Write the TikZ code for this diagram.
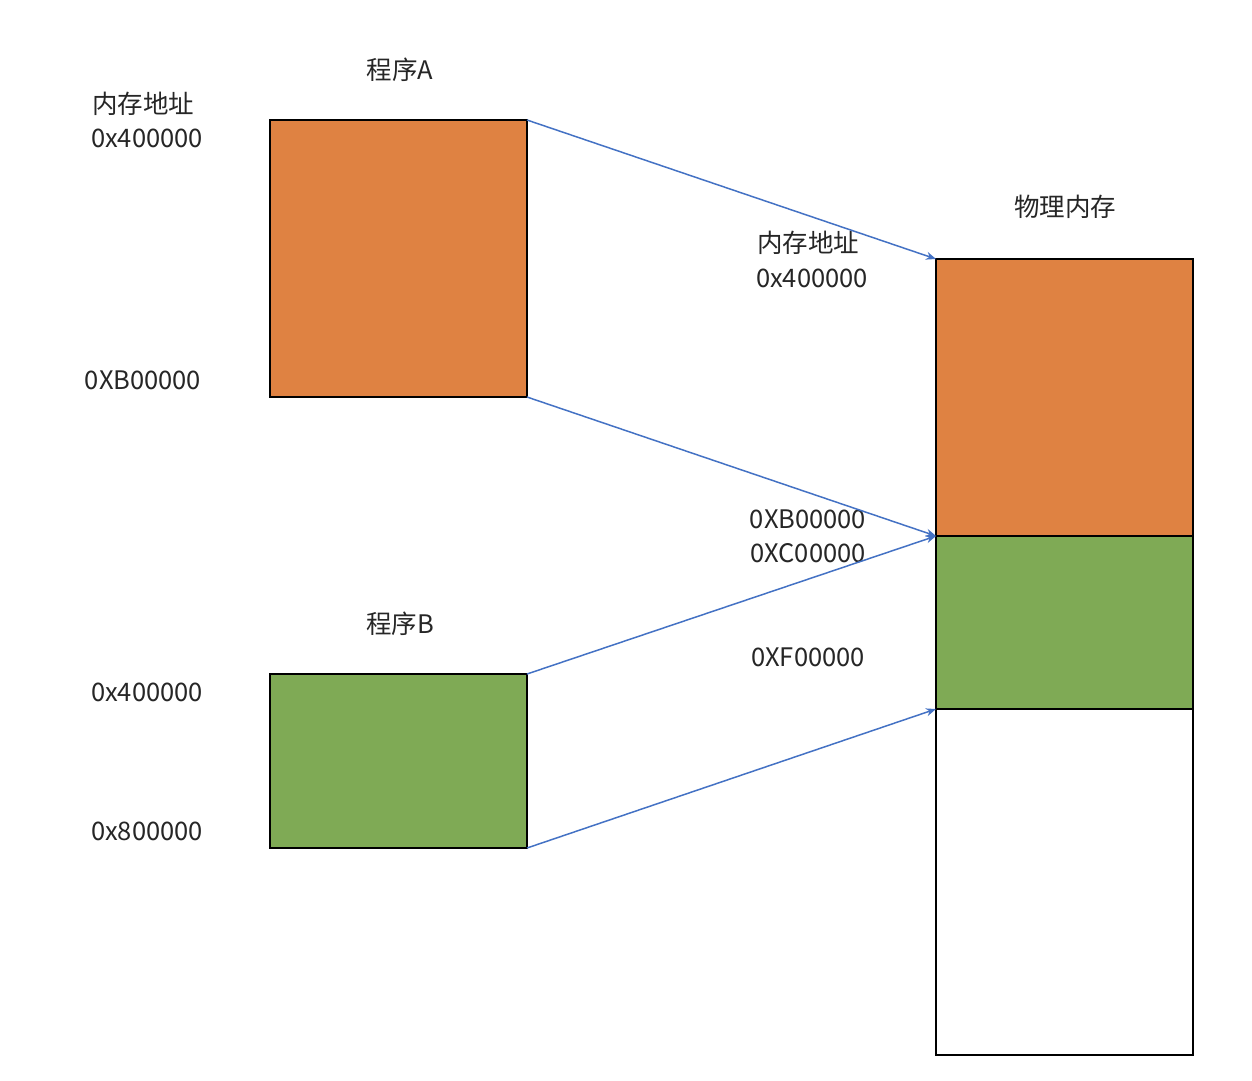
\documentclass[tikz,border=0pt]{standalone}
\usepackage{fontspec}
\setmainfont{Noto Sans CJK SC}
\usetikzlibrary{arrows.meta}
\definecolor{orA}{RGB}{223,130,66}
\definecolor{grB}{RGB}{127,170,85}
\definecolor{blu}{RGB}{68,114,196}
\begin{document}
\begin{tikzpicture}[x=1pt,y=-1pt,
  blk/.style={draw=black,line width=2pt,inner sep=0pt,outer sep=0pt,anchor=north west},
  lbl/.style={font=\fontsize{25.5}{30}\selectfont,inner sep=0pt,text=black!85},
  conn/.style={draw=blu,line width=1.5pt,-{Stealth[length=10pt,width=8pt]}}]
\useasboundingbox (0,0) rectangle (1252,1080);
\node[blk,fill=orA,minimum width=257pt,minimum height=277pt] (A) at (270,120) {};
\node[blk,fill=grB,minimum width=257pt,minimum height=174pt] (B) at (270,674) {};
\node[blk,fill=orA,minimum width=257pt,minimum height=277pt] (PA) at (936,259) {};
\node[blk,fill=grB,minimum width=257pt,minimum height=173pt] (PB) at (936,536) {};
\node[blk,fill=white,minimum width=257pt,minimum height=346pt] (PF) at (936,709) {};
\node[lbl] (tA) at (400,70) {程序A};
\node[lbl] (tB) at (400,624) {程序B};
\node[lbl] (tP) at (1065,207) {物理内存};
\node[lbl] (a1) at (143,104) {内存地址};
\node[lbl] (a2) at (147,138) {0x400000};
\node[lbl] (a3) at (143,380) {0XB00000};
\node[lbl] (b1) at (147,692) {0x400000};
\node[lbl] (b2) at (147,831) {0x800000};
\node[lbl] (p1) at (808,243) {内存地址};
\node[lbl] (p2) at (812,278) {0x400000};
\node[lbl] (p3) at (808,519) {0XB00000};
\node[lbl] (p4) at (808,553) {0XC00000};
\node[lbl] (p5) at (808,657) {0XF00000};
\draw[conn] (A.north east) -- (PA.north west);
\draw[conn] (A.south east) -- (PA.south west);
\draw[conn] (B.north east) -- (PB.north west);
\draw[conn] (B.south east) -- (PB.south west);
\end{tikzpicture}
\end{document}
